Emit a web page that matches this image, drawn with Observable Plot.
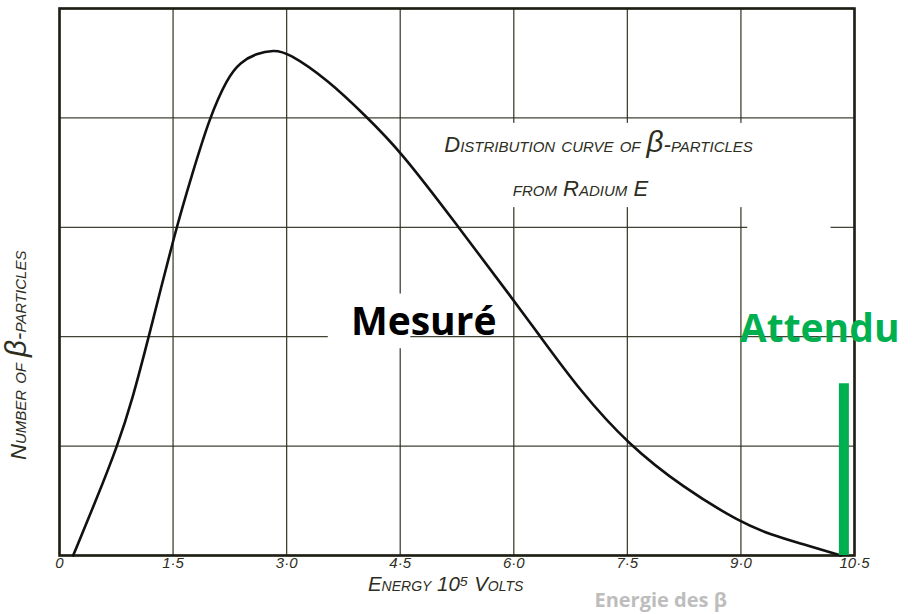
<!DOCTYPE html>
<html>
<head>
<meta charset="utf-8">
<script src="https://cdn.jsdelivr.net/npm/d3@7"></script>
<script src="https://cdn.jsdelivr.net/npm/@observablehq/plot@0.6"></script>
<style>
  html, body { margin: 0; padding: 0; background: #fff; }
  #chart svg { display: block; }
</style>
</head>
<body>
<div id="chart"></div>
<script>
// Grid / ticks
const xTicks = [0, 1.5, 3, 4.5, 6, 7.5, 9, 10.5];
const xTickLabels = ["0", "1·5", "3·0", "4·5", "6·0", "7·5", "9·0", "10·5"];
const yGrid = [0, 1, 2, 3, 4, 5];

// Measured distribution curve (energy in 10^5 volts, relative number)
const curveX = [0.18, 0.48, 0.77, 0.96, 1.18, 1.53, 1.75, 1.98, 2.22, 2.39, 2.60, 2.83, 3.01, 3.54, 4.04, 4.50, 5.24, 6.00, 6.31, 6.88, 7.52, 8.24, 9.00, 9.40, 9.79, 10.32];
const curveY = [0.00, 0.50, 1.01, 1.42, 2.00, 2.97, 3.48, 4.00, 4.37, 4.51, 4.59, 4.62, 4.60, 4.35, 4.02, 3.70, 3.03, 2.33, 2.04, 1.50, 1.01, 0.62, 0.30, 0.19, 0.11, 0.00];

// Expected (single line)
const expectedX = [10.36];
const expectedY = [1.57];

// White patches from the scan (label backgrounds)
const maskX1 = [4.90, 9.09, 3.55];
const maskX2 = [9.26, 10.19, 4.64];
const maskY1 = [3.18, 2.95, 1.89];
const maskY2 = [3.95, 3.18, 2.39];

const curve = curveX.map((x, i) => ({x, y: curveY[i]}));
const expected = expectedX.map((x, i) => ({x, y: expectedY[i]}));
const masks = maskX1.map((x1, i) => ({x1, x2: maskX2[i], y1: maskY1[i], y2: maskY2[i]}));
const ticks = xTicks.map((x, i) => ({x, label: xTickLabels[i]}));

const ink = "#2e2e1e";
const hand = "'Liberation Sans', 'DejaVu Sans', sans-serif";
const bold = "'Open Sans', sans-serif";

const chart = Plot.plot({
  width: 923,
  height: 614,
  marginLeft: 59,
  marginRight: 69,
  marginTop: 8,
  marginBottom: 59,
  x: {domain: [0, 10.5], axis: null},
  y: {domain: [0, 5], axis: null},
  style: {background: "#fff", overflow: "visible"},
  marks: [
    Plot.ruleX(xTicks, {stroke: ink, strokeWidth: 1.3, strokeOpacity: 0.9}),
    Plot.ruleY(yGrid, {stroke: ink, strokeWidth: 1.3, strokeOpacity: 0.9}),
    Plot.rect(masks, {x1: "x1", x2: "x2", y1: "y1", y2: "y2", fill: "#fff"}),
    Plot.frame({stroke: "#1e1e14", strokeWidth: 2.6}),
    Plot.line(curve, {x: "x", y: "y", curve: "basis", stroke: "#111", strokeWidth: 2.6}),
    Plot.ruleX(expected, {x: "x", y1: 0, y2: "y", stroke: "#00B050", strokeWidth: 10}),
    Plot.text(ticks, {x: "x", y: 0, text: "label", dy: 8, fontSize: 15, fontStyle: "italic", fontFamily: hand, fill: ink, clip: false}),
    Plot.text(["Energy 10⁵ Volts"], {x: 5.1, y: -0.265, text: d => d, fontSize: 20.5, fontStyle: "italic", fontVariant: "small-caps", fontFamily: hand, fill: ink, clip: false}),
    Plot.text(["Number of β-particles"], {x: -0.54, y: 1.83, text: d => d, rotate: -90, fontSize: 22, fontStyle: "italic", fontVariant: "small-caps", fontFamily: hand, fill: ink, clip: false}),
    Plot.text(["Distribution curve of β-particles"], {x: 7.12, y: 3.75, text: d => d, fontSize: 22, fontStyle: "italic", fontVariant: "small-caps", fontFamily: hand, fill: ink}),
    Plot.text(["from Radium E"], {x: 6.88, y: 3.35, text: d => d, fontSize: 22, fontStyle: "italic", fontVariant: "small-caps", fontFamily: hand, fill: ink}),
    Plot.text(["Mesuré"], {x: 4.81, y: 2.13, text: d => d, fontSize: 39, fontWeight: "bold", fontFamily: bold, fill: "#000"}),
    Plot.text(["Attendu"], {x: 10.04, y: 2.07, text: d => d, fontSize: 39, fontWeight: "bold", fontFamily: bold, fill: "#00B050", clip: false}),
    Plot.text(["Energie des β"], {x: 7.94, y: -0.41, text: d => d, fontSize: 20, fontWeight: "bold", fontFamily: bold, fill: "#bdbdbd", clip: false})
  ]
});

// Keep the Greek beta lowercase (and larger) inside small-caps labels
d3.select(chart).selectAll("text").each(function() {
  const t = this.textContent;
  if (!t.includes("β-particles")) return;
  const parts = t.split("β");
  const sel = d3.select(this);
  sel.text(null);
  parts.forEach((p, i) => {
    if (i > 0) sel.append("tspan").attr("style", "font-variant: normal; font-size: 1.35em").text("β");
    sel.append("tspan").text(p);
  });
});

document.getElementById("chart").append(chart);
</script>
</body>
</html>
